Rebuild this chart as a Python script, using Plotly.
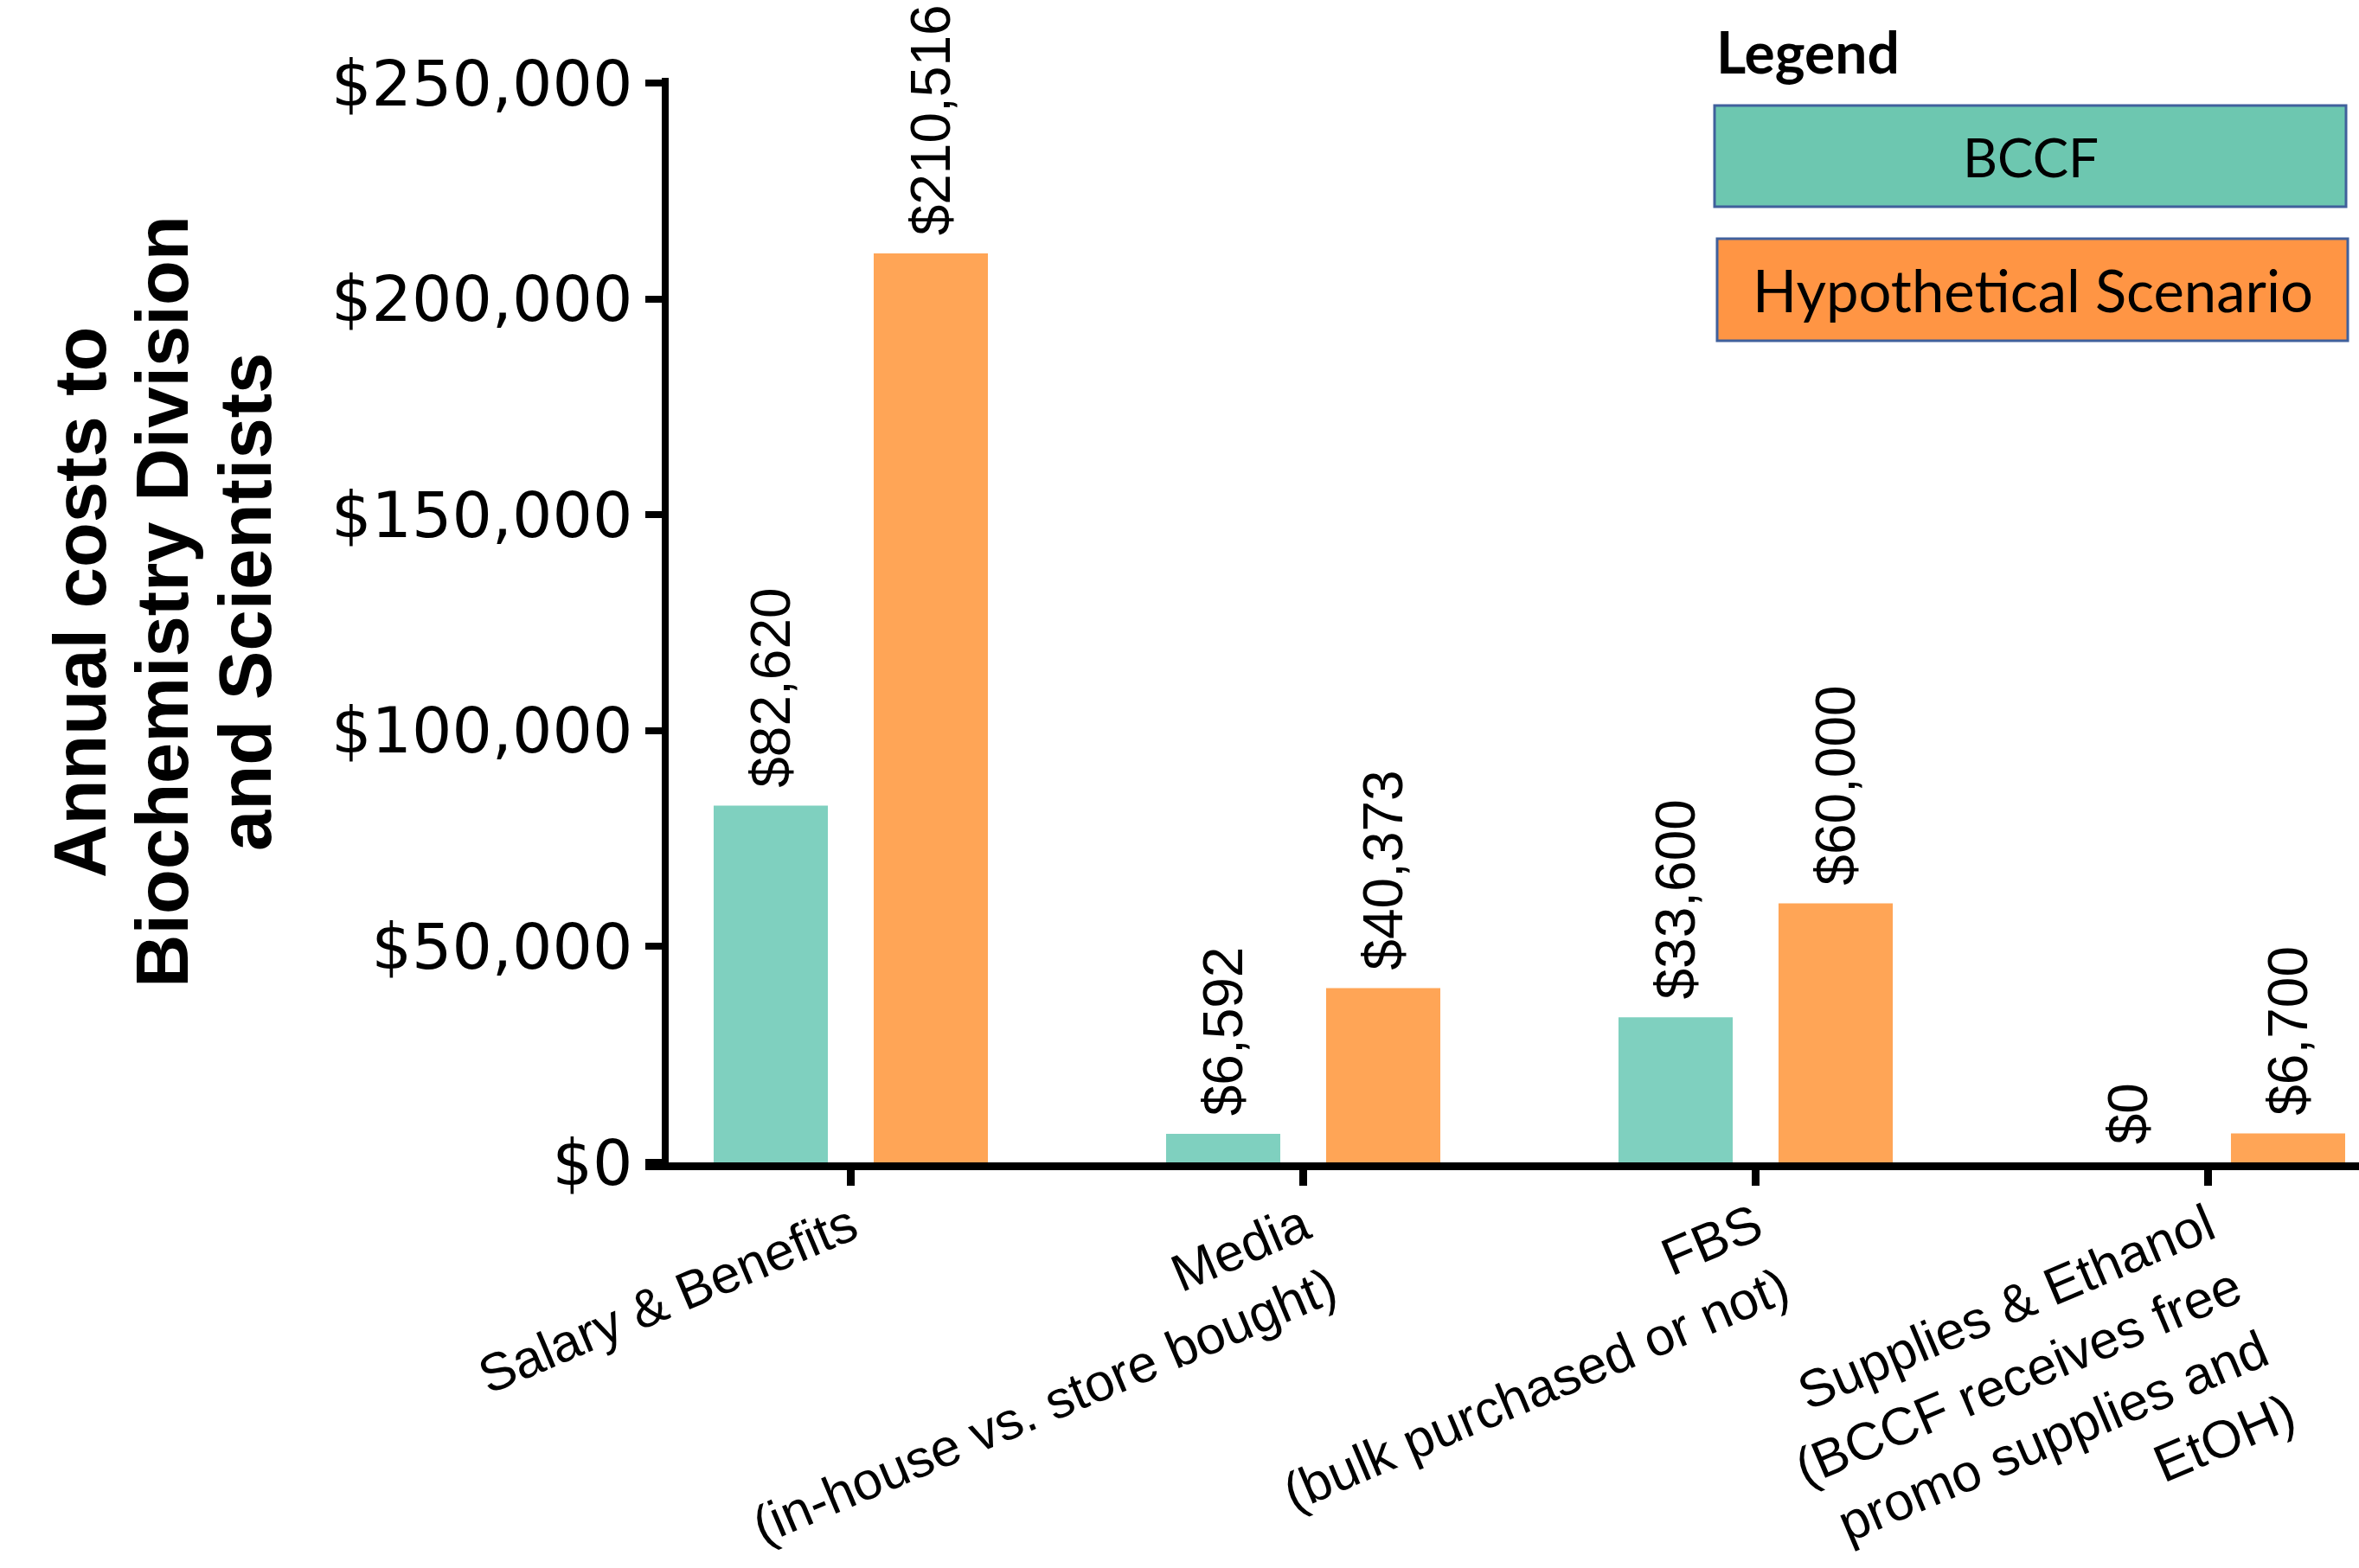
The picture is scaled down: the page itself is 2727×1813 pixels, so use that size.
import plotly.graph_objects as go

# ---- data -------------------------------------------------------------
categories = [
    "Salary & Benefits",
    "Media<br>(in-house vs. store bought)",
    "FBS<br>(bulk purchased or not)",
    "Supplies & Ethanol<br>(BCCF receives free<br>promo supplies and<br>EtOH)",
]
bccf_costs = [82620, 6592, 33600, 0]
hypothetical_costs = [210516, 40373, 60000, 6700]
series_names = ["BCCF", "Hypothetical Scenario"]
y_tick_values = [0, 50000, 100000, 150000, 200000, 250000]
y_tick_labels = ["$0", "$50,000", "$100,000", "$150,000", "$200,000", "$250,000"]
y_title_lines = ["Annual costs to", "Biochemistry Division", "and Scientists"]

# ---- styling ----------------------------------------------------------
W, H = 2727, 1813
PLOT_L, PLOT_R, PLOT_T, PLOT_B = 773, 2727, 90, 1344
TEAL_BAR, ORANGE_BAR = "#7fd0bf", "#ffa556"
TEAL_KEY, ORANGE_KEY = "#6dc7b0", "#ff9544"
KEY_EDGE = "#40609c"
NUM_FONT = "DejaVu Sans"
ARIAL = "Liberation Sans, Arial, sans-serif"
KEY_FONT = "Lato, Open Sans, sans-serif"


def fx(p):
    """pixel column -> paper x"""
    return (p - PLOT_L) / (PLOT_R - PLOT_L)


def fy(p):
    """pixel row -> paper y"""
    return (PLOT_B - p) / (PLOT_B - PLOT_T)


fig = go.Figure()
for name, vals, col in [
    (series_names[0], bccf_costs, TEAL_BAR),
    (series_names[1], hypothetical_costs, ORANGE_BAR),
]:
    fig.add_trace(
        go.Bar(
            name=name,
            x=categories,
            y=vals,
            marker=dict(color=col, line=dict(width=0)),
            # a no-break space lifts each label a little off its bar
            texttemplate="\u00a0$%{y:,}",
            textposition="outside",
            textangle=-90,
            textfont=dict(family=ARIAL, size=64, color="black"),
            constraintext="none",
            cliponaxis=False,
        )
    )

fig.update_layout(
    width=W,
    height=H,
    margin=dict(l=PLOT_L, r=W - PLOT_R, t=PLOT_T, b=H - PLOT_B, pad=0),
    paper_bgcolor="white",
    plot_bgcolor="white",
    barmode="group",
    bargap=0.2925,
    bargroupgap=0.2864,
    showlegend=False,
    font=dict(family=ARIAL, color="black"),
)

fig.update_xaxes(
    type="category",
    range=[-0.4025, 3.3337],
    automargin=False,
    showline=True,
    linewidth=9,
    linecolor="black",
    ticks="outside",
    ticklen=18,
    tickwidth=9,
    tickcolor="black",
    tickangle=-23,
    ticklabelstandoff=-12,
    tickfont=dict(family=ARIAL, size=61, color="black"),
    showgrid=False,
    zeroline=False,
)

fig.update_yaxes(
    range=[0, 251200],
    automargin=False,
    tickvals=y_tick_values,
    ticktext=y_tick_labels,
    showline=True,
    linewidth=8,
    linecolor="black",
    ticks="outside",
    ticklen=19,
    tickwidth=8,
    tickcolor="black",
    tickfont=dict(family=NUM_FONT, size=73, color="black"),
    showgrid=False,
    zeroline=False,
)

# x-axis baseline continues a little past the y-axis on the left
fig.add_shape(
    type="line", xref="paper", yref="paper",
    x0=fx(746), x1=fx(770), y0=fy(1348.5), y1=fy(1348.5),
    line=dict(color="black", width=9), layer="above",
)

# three-line bold y-axis title
for line, cx in zip(y_title_lines, [92, 187, 283]):
    fig.add_annotation(
        text=line, xref="paper", yref="paper",
        x=fx(cx), y=fy(696), xanchor="center", yanchor="middle",
        textangle=-90, showarrow=False,
        font=dict(family=ARIAL, size=85, color="black", weight="bold"),
    )

# legend panel
fig.add_annotation(
    text="<b>Legend</b>", xref="paper", yref="paper",
    x=fx(1982), y=fy(60), xanchor="left", yanchor="middle",
    showarrow=False, font=dict(family=KEY_FONT, size=66, color="black"),
)
for (x0, x1, y0, y1), fill, label, size in [
    ((1982, 2712, 122, 239), TEAL_KEY, series_names[0], 62),
    ((1985, 2714, 276, 394), ORANGE_KEY, series_names[1], 67),
]:
    fig.add_shape(
        type="rect", xref="paper", yref="paper",
        x0=fx(x0), x1=fx(x1), y0=fy(y1), y1=fy(y0),
        fillcolor=fill, line=dict(color=KEY_EDGE, width=3), layer="above",
    )
    fig.add_annotation(
        text=label, xref="paper", yref="paper",
        x=fx((x0 + x1) / 2), y=fy((y0 + y1) / 2),
        xanchor="center", yanchor="middle", showarrow=False,
        font=dict(family=KEY_FONT, size=size, color="black"),
    )

fig.write_html("out.html")
